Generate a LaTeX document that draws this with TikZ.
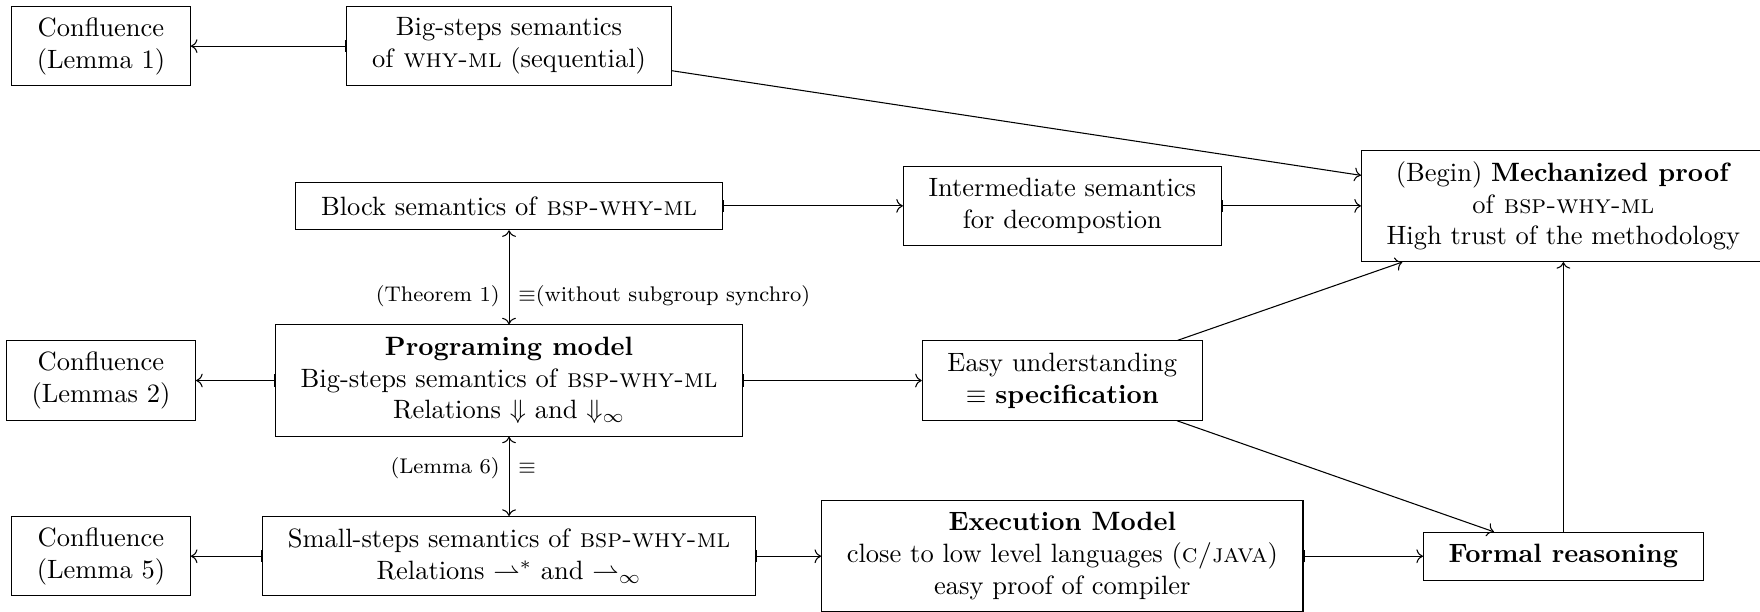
\documentclass[tikz,border=0pt]{standalone}
\usepackage{amssymb}
\usetikzlibrary{arrows.meta}

\begin{document}
\begin{tikzpicture}[
    box/.style={
      draw, align=center, inner xsep=9.5pt, inner ysep=3pt,
      minimum height=18pt},
    lines2/.style={minimum height=30pt},
    lines3/.style={minimum height=42pt},
    flow/.style={|->},
    link/.style={->},
    equiv/.style={<->},
    lbl/.style={font=\footnotesize}
  ]
  \useasboundingbox (0pt,0pt) rectangle (664.2pt,-230.9pt);

  % --- first row
  \node[box, lines2] (conf1) at (38.1pt,-17.4pt) {Confluence\\(Lemma 1)};
  \node[box, lines2] (bigseq) at (192.1pt,-17.4pt)
    {Big-steps semantics\\of \textsc{why-ml} (sequential)};

  % --- block semantics row
  \node[box] (block) at (192.1pt,-77.7pt) {Block semantics of \textsc{bsp-why-ml}};
  \node[box, lines2] (inter) at (400.9pt,-77.7pt)
    {Intermediate semantics\\for decompostion};
  \node[box, lines3] (mech) at (590pt,-77.7pt)
    {(Begin) \textbf{Mechanized proof}\\of \textsc{bsp-why-ml}\\High trust of the methodology};

  % --- programing model row
  \node[box, lines2] (conf2) at (38.1pt,-143.6pt) {Confluence\\(Lemmas 2)};
  \node[box, lines3] (prog) at (192.1pt,-143.6pt)
    {\textbf{Programing model}\\Big-steps semantics of \textsc{bsp-why-ml}\\Relations $\Downarrow$ and $\Downarrow_\infty$};
  \node[box, lines2] (easy) at (400.9pt,-143.6pt)
    {Easy understanding\\$\equiv$ \textbf{specification}};

  % --- execution row
  \node[box, lines2] (conf5) at (38.1pt,-209.9pt) {Confluence\\(Lemma 5)};
  \node[box, lines2] (small) at (192.1pt,-209.9pt)
    {Small-steps semantics of \textsc{bsp-why-ml}\\Relations $\rightharpoonup^*$ and $\rightharpoonup_\infty$};
  \node[box, lines3] (exec) at (400.9pt,-209.9pt)
    {\textbf{Execution Model}\\close to low level languages (\textsc{c/java})\\easy proof of compiler};
  \node[box] (formal) at (590pt,-209.9pt) {\textbf{Formal reasoning}};

  % --- flows
  \draw[flow] (bigseq) -- (conf1);
  \draw[link] (bigseq) -- (mech);
  \draw[flow] (block) -- (inter);
  \draw[flow] (inter) -- (mech);
  \draw[equiv] (block) --
    node[lbl, left, pos=0.7] (thm) {(Theorem 1)}
    node[lbl, right, pos=0.7] (thmeq) {$\equiv$(without subgroup synchro)} (prog);
  \draw[flow] (prog) -- (conf2);
  \draw[flow] (prog) -- (easy);
  \draw[link] (easy) -- (mech);
  \draw[link] (easy) -- (formal);
  \draw[equiv] (prog) --
    node[lbl, left, pos=0.4] (lem) {(Lemma 6)}
    node[lbl, right, pos=0.4] (lemeq) {$\equiv$} (small);
  \draw[flow] (small) -- (conf5);
  \draw[flow] (small) -- (exec);
  \draw[flow] (exec) -- (formal);
  \draw[link] (formal) -- (mech);

\end{tikzpicture}
\end{document}
